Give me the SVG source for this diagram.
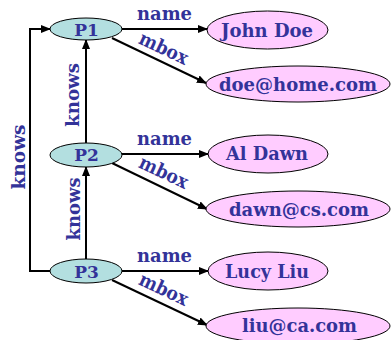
<svg xmlns="http://www.w3.org/2000/svg" width="391" height="340" viewBox="0 0 391 340">
<style>
.e{stroke:#000;stroke-width:2;fill:none;marker-end:url(#a)}
.p{fill:#b3dfe0;stroke:#000;stroke-width:1}
.v{fill:#ffccff;stroke:#000;stroke-width:1}
text{font-family:"DejaVu Serif","Liberation Serif",serif;font-weight:bold;fill:#333399;text-anchor:middle}
.n{font-size:17px}
.t{font-size:19px}
.l{font-size:19px}
</style>
<defs>
<marker id="a" markerWidth="10" markerHeight="8" refX="9" refY="4" orient="auto" markerUnits="userSpaceOnUse">
<path d="M0,0 L10,4 L0,8 Z" fill="#000"/>
</marker>
</defs>
<rect width="391" height="340" fill="#fff"/>
<g id="connectors">
<path class="e" d="M122,29 H207"/>
<path class="e" d="M112,38 L206,83"/>
<path class="e" d="M122,154 H208"/>
<path class="e" d="M112,163 L207,209"/>
<path class="e" d="M122,271 H208"/>
<path class="e" d="M112,280 L207,325"/>
<path class="e" d="M86,143 V40"/>
<path class="e" d="M86,259 V167"/>
<path class="e" d="M50,271 H30 V29 H50"/>
<text class="l" x="164.5" y="20" textLength="55" lengthAdjust="spacingAndGlyphs">name</text>
<text class="l" transform="translate(161,54) rotate(25)" textLength="52" lengthAdjust="spacingAndGlyphs">mbox</text>
<text class="l" x="164.5" y="145" textLength="55" lengthAdjust="spacingAndGlyphs">name</text>
<text class="l" transform="translate(161,178) rotate(25)" textLength="52" lengthAdjust="spacingAndGlyphs">mbox</text>
<text class="l" x="164.5" y="262" textLength="55" lengthAdjust="spacingAndGlyphs">name</text>
<text class="l" transform="translate(161,295) rotate(25)" textLength="52" lengthAdjust="spacingAndGlyphs">mbox</text>
<text class="l" transform="translate(79,95) rotate(-90)" textLength="64" lengthAdjust="spacingAndGlyphs">knows</text>
<text class="l" transform="translate(80,209) rotate(-90)" textLength="63" lengthAdjust="spacingAndGlyphs">knows</text>
<text class="l" transform="translate(25,157) rotate(-90)" textLength="65" lengthAdjust="spacingAndGlyphs">knows</text>
</g>
<g id="P1"><ellipse class="p" cx="86" cy="29" rx="36" ry="11"/><text class="n" x="86.5" y="35.5">P1</text></g>
<g id="P2"><ellipse class="p" cx="86" cy="155" rx="36" ry="12"/><text class="n" x="86.5" y="161">P2</text></g>
<g id="P3"><ellipse class="p" cx="86" cy="271" rx="36" ry="12"/><text class="n" x="86.5" y="278">P3</text></g>
<g id="johndoe"><ellipse class="v" cx="267.5" cy="30" rx="60.5" ry="19"/><text class="t" x="267" y="37" textLength="92" lengthAdjust="spacingAndGlyphs">John Doe</text></g>
<g id="doehome"><ellipse class="v" cx="298" cy="84" rx="92" ry="18"/><text class="t" x="298" y="91" textLength="158" lengthAdjust="spacingAndGlyphs">doe@home.com</text></g>
<g id="aldawn"><ellipse class="v" cx="268" cy="154" rx="60" ry="19"/><text class="t" x="267" y="160" textLength="82" lengthAdjust="spacingAndGlyphs">Al Dawn</text></g>
<g id="dawncs"><ellipse class="v" cx="298" cy="209" rx="92" ry="18"/><text class="t" x="299" y="216" textLength="140" lengthAdjust="spacingAndGlyphs">dawn@cs.com</text></g>
<g id="lucyliu"><ellipse class="v" cx="268" cy="271" rx="60" ry="19"/><text class="t" x="267" y="278" textLength="84" lengthAdjust="spacingAndGlyphs">Lucy Liu</text></g>
<g id="liuca"><ellipse class="v" cx="298" cy="326" rx="92" ry="18"/><text class="t" x="299.5" y="332" textLength="115" lengthAdjust="spacingAndGlyphs">liu@ca.com</text></g>
</svg>
